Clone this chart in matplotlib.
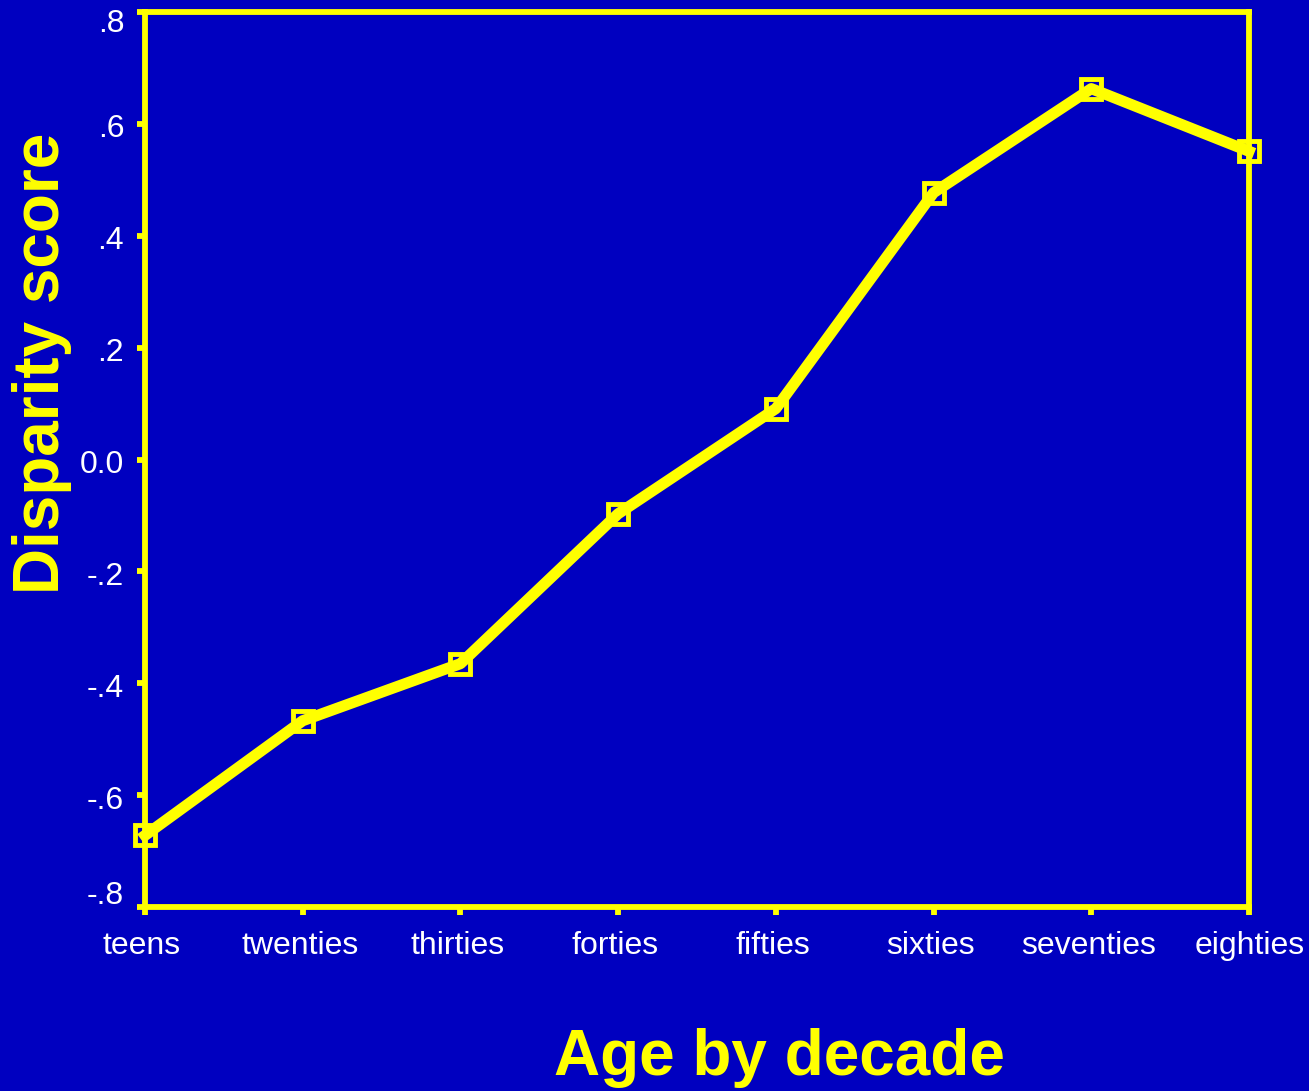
import matplotlib
matplotlib.use("Agg")
import matplotlib.pyplot as plt
from matplotlib.transforms import ScaledTranslation

categories = ["teens", "twenties", "thirties", "forties", "fifties", "sixties", "seventies", "eighties"]
scores = [-0.672, -0.467, -0.365, -0.097, 0.091, 0.477, 0.663, 0.551]
yticks = [-0.8, -0.6, -0.4, -0.2, 0.0, 0.2, 0.4, 0.6, 0.8]
ytick_labels = ["-.8", "-.6", "-.4", "-.2", "0.0", ".2", ".4", ".6", ".8"]

BG = "#0000C0"
YEL = "#FFFF00"

plt.rcParams['font.family'] = ['Liberation Sans', 'DejaVu Sans']

fig = plt.figure(figsize=(13.09, 10.91), dpi=100, facecolor=BG)
ax = fig.add_axes([145/1309, 1-907/1091, (1249-145)/1309, (907-12)/1091])
ax.set_facecolor(BG)

x = list(range(len(categories)))
ax.plot(x, scores, color=YEL, lw=8, marker='s', ms=15, mfc='none', mec=YEL, mew=3.5,
        clip_on=False, zorder=5)

ax.set_xlim(0, len(categories) - 1)
ax.set_ylim(-0.8, 0.8)
ax.set_xticks(x)
ax.set_xticklabels(categories)
ax.set_yticks(yticks)
ax.set_yticklabels(ytick_labels)

for s in ['top', 'bottom', 'left', 'right']:
    ax.spines[s].set_color(YEL)
    ax.spines[s].set_linewidth(4.2)
ax.tick_params(axis='both', colors=YEL, labelcolor='white', labelsize=23,
               width=4.2, length=6, direction='out')
ax.tick_params(axis='x', pad=11)
ax.tick_params(axis='y', pad=9)

# shift tick labels slightly (end labels pushed inward as in the reference)
offsets_px = {"-.8": 14, ".8": -8}
for lab in ax.get_yticklabels():
    dy = offsets_px.get(lab.get_text(), -2)
    lab.set_transform(lab.get_transform() + ScaledTranslation(0, dy/100, fig.dpi_scale_trans))
for i, lab in enumerate(ax.get_xticklabels()):
    dx = -3 if i < len(categories) - 1 else 1
    lab.set_transform(lab.get_transform() + ScaledTranslation(dx/100, 0, fig.dpi_scale_trans))

fig.text(779/1309, 1-1058/1091, "Age by decade", color=YEL, fontsize=46, fontweight='bold',
         ha='center', va='center')
fig.text(42/1309, 1-363/1091, "Disparity score", color=YEL, fontsize=46, fontweight='bold',
         ha='center', va='center', rotation=90)

fig.savefig("out.png", dpi=100, facecolor=BG)
